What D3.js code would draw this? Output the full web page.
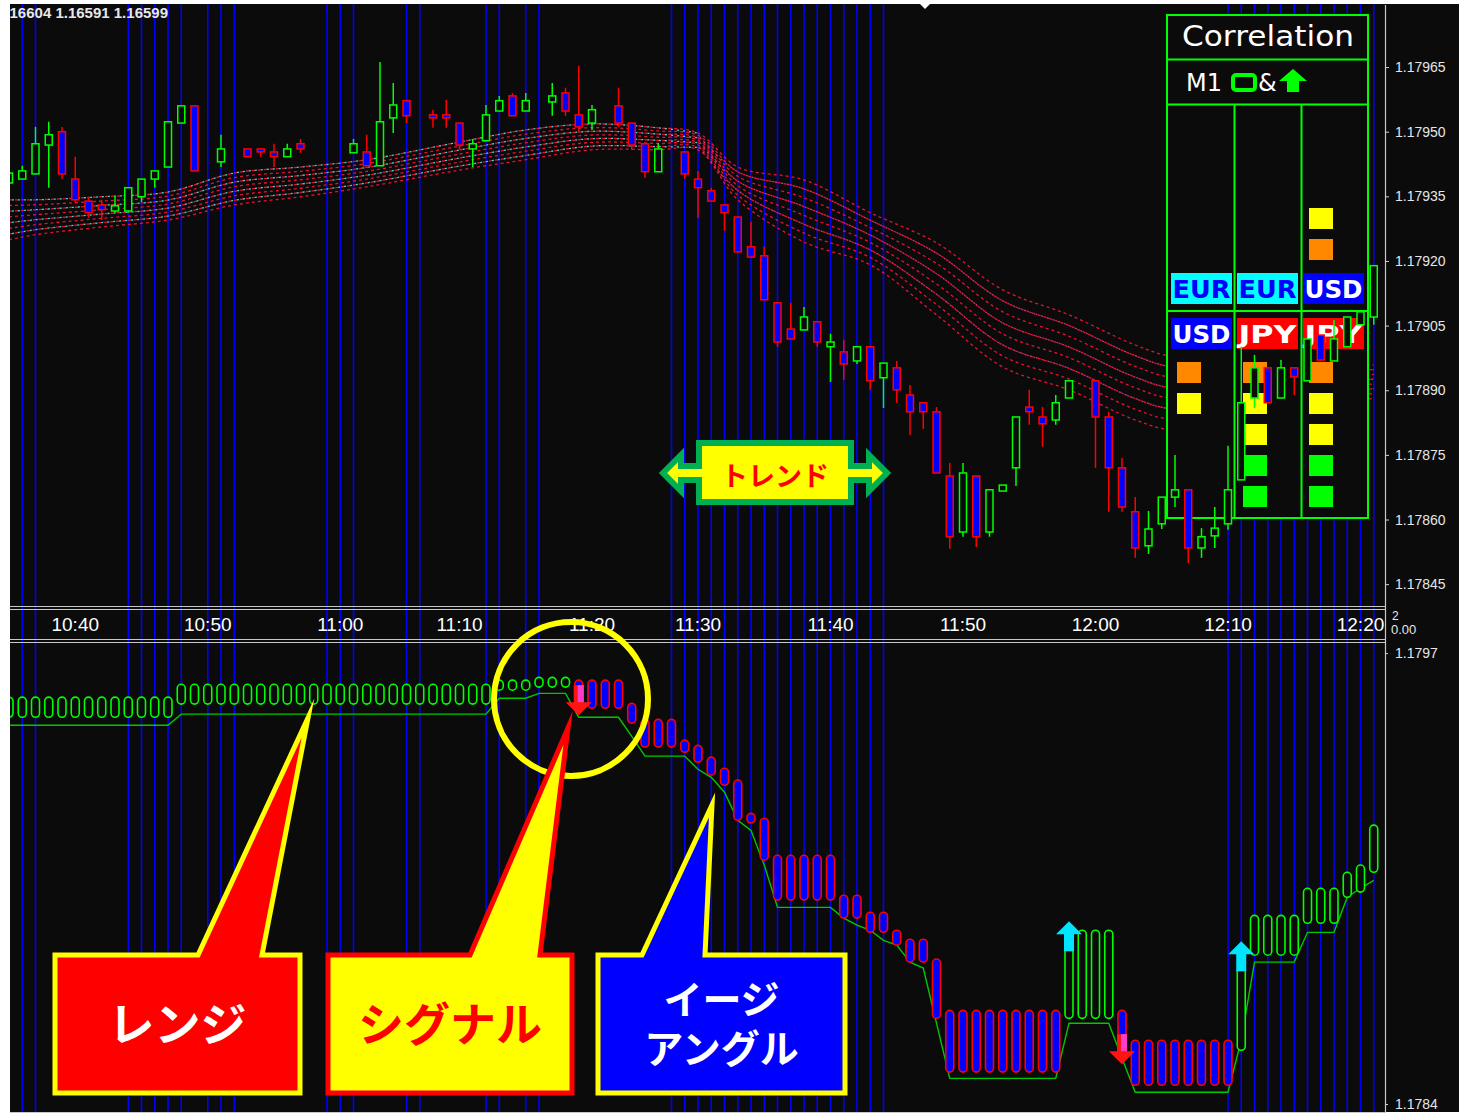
<!DOCTYPE html>
<html>
<head>
<meta charset="utf-8">
<script src="https://cdn.jsdelivr.net/npm/d3@7"></script>
<style>
  body { margin: 0; background: #fff; }
  svg { display: block; }
</style>
</head>
<body>
<div id="chart"></div>
<script>
// ---- data ----
// M1 candles, [open, high, low, close]; null = no visible candle
const candles = [
  [1.179381,1.179407,1.179379,1.179404],[1.179390,1.179421,1.179390,1.179409],[1.179402,1.179511,1.179402,1.179472],
  [1.179469,1.179523,1.179370,1.179493],[1.179500,1.179511,1.179390,1.179402],[1.179390,1.179442,1.179335,1.179342],
  [1.179339,1.179349,1.179300,1.179312],[1.179330,1.179342,1.179295,1.179319],[1.179316,1.179351,1.179312,1.179328],
  [1.179316,1.179370,1.179312,1.179370],[1.179349,1.179390,1.179337,1.179390],[1.179390,1.179409,1.179370,1.179409],
  [1.179418,1.179523,1.179418,1.179523],[1.179520,1.179560,1.179520,1.179560],[1.179560,1.179560,1.179409,1.179409],
  null,[1.179430,1.179493,1.179418,1.179460],null,
  [1.179460,1.179460,1.179442,1.179442],[1.179460,1.179460,1.179442,1.179453],[1.179453,1.179472,1.179418,1.179442],
  [1.179442,1.179472,1.179442,1.179460],[1.179472,1.179483,1.179451,1.179460],null,null,null,
  [1.179451,1.179483,1.179451,1.179472],[1.179453,1.179493,1.179421,1.179421],[1.179421,1.179662,1.179421,1.179523],
  [1.179532,1.179613,1.179497,1.179562],[1.179572,1.179572,1.179520,1.179537],null,
  [1.179539,1.179551,1.179509,1.179532],[1.179539,1.179574,1.179509,1.179532],[1.179520,1.179520,1.179458,1.179469],
  [1.179460,1.179483,1.179418,1.179472],[1.179479,1.179562,1.179479,1.179539],[1.179548,1.179583,1.179548,1.179572],
  [1.179583,1.179590,1.179537,1.179537],[1.179548,1.179590,1.179548,1.179572],null,
  [1.179569,1.179613,1.179537,1.179583],[1.179590,1.179602,1.179537,1.179548],[1.179539,1.179653,1.179500,1.179511],
  [1.179520,1.179562,1.179504,1.179551],null,[1.179560,1.179602,1.179511,1.179520],
  [1.179520,1.179520,1.179458,1.179469],[1.179472,1.179472,1.179393,1.179407],[1.179407,1.179474,1.179407,1.179460],
  null,[1.179453,1.179453,1.179390,1.179402],[1.179390,1.179409,1.179300,1.179370],
  [1.179363,1.179370,1.179339,1.179339],[1.179330,1.179330,1.179270,1.179312],[1.179302,1.179302,1.179221,1.179221],
  [1.179233,1.179291,1.179209,1.179209],[1.179212,1.179233,1.179110,1.179110],[1.179103,1.179103,1.179001,1.179012],
  [1.179042,1.179103,1.179019,1.179019],[1.179040,1.179093,1.179040,1.179070],[1.179059,1.179059,1.179001,1.179012],
  [1.179001,1.179031,1.178919,1.179012],[1.178989,1.179017,1.178924,1.178961],[1.178968,1.179001,1.178961,1.179001],
  [1.179001,1.179001,1.178901,1.178922],[1.178929,1.178963,1.178859,1.178963],[1.178952,1.178968,1.178871,1.178901],
  [1.178889,1.178912,1.178796,1.178850],[1.178871,1.178871,1.178810,1.178850],[1.178850,1.178861,1.178708,1.178708],
  [1.178701,1.178731,1.178532,1.178560],[1.178571,1.178731,1.178560,1.178708],[1.178701,1.178701,1.178536,1.178560],
  [1.178571,1.178669,1.178560,1.178669],[1.178666,1.178680,1.178666,1.178680],[1.178720,1.178838,1.178678,1.178838],
  [1.178861,1.178901,1.178820,1.178850],[1.178838,1.178861,1.178769,1.178822],[1.178831,1.178889,1.178820,1.178871],
  [1.178882,1.178922,1.178882,1.178922],null,[1.178922,1.178922,1.178720,1.178838],
  [1.178838,1.178850,1.178618,1.178720],[1.178720,1.178743,1.178618,1.178629],[1.178618,1.178652,1.178511,1.178534],
  [1.178539,1.178620,1.178520,1.178578],[1.178590,1.178652,1.178578,1.178652],[1.178652,1.178750,1.178629,1.178669],
  [1.178669,1.178669,1.178499,1.178534],[1.178534,1.178580,1.178511,1.178560],[1.178562,1.178629,1.178534,1.178580],
  [1.178590,1.178771,1.178576,1.178669],[1.178692,1.179001,1.178692,1.178871],[1.178882,1.178982,1.178859,1.178952],
  [1.178952,1.178952,1.178871,1.178871],[1.178882,1.178970,1.178882,1.178952],[1.178952,1.178952,1.178889,1.178931],
  [1.178922,1.179019,1.178922,1.179019],[1.179028,1.179028,1.178970,1.178970],[1.178968,1.179063,1.178968,1.179019],
  [1.179001,1.179070,1.179001,1.179070],[1.179052,1.179082,1.179052,1.179082],[1.179070,1.179189,1.179052,1.179189]
];

// moving-average ribbon envelope (bar index, upper, lower)
const ribbonIdx = [0, 2, 7, 12, 17, 22, 27, 34, 39, 44, 49, 52, 55, 60, 65, 70, 75, 80, 85, 88, 103];
const ribbonHi = [1.179342,1.179342,1.179349,1.179360,1.179404,1.179418,1.179435,1.179476,1.179504,1.179518,1.179509,
  1.179497,1.179418,1.179388,1.179312,1.179242,1.179133,1.179075,1.179005,1.178977,1.178959];
const ribbonLo = [1.179249,1.179261,1.179279,1.179295,1.179330,1.179349,1.179372,1.179411,1.179435,1.179458,1.179458,
  1.179458,1.179342,1.179244,1.179191,1.179075,1.178954,1.178901,1.178831,1.178808,1.178882];

// bars with blue vertical marker lines
const markerIdx = [1,2,9,10,11,12,13,15,16,17,24,25,26,30,31,36,37,39,40,
  50,51,52,53,54,55,56,57,58,59,60,61,62,63,64,65,66,
  92,93,94,95,96,97,98,99,100,101,102,103];

// lower window: smoothed bars (open/close) and the trailing step line
const haOpen = [
  1.179515,1.179515,1.179515,1.179515,1.179515,1.179515,1.179515,1.179515,1.179515,1.179515,1.179515,1.179515,1.179515,
  1.179553,1.179553,1.179553,1.179553,1.179553,1.179553,1.179553,1.179553,1.179553,1.179553,1.179553,1.179553,
  1.179553,1.179553,1.179553,1.179553,1.179553,1.179553,1.179553,1.179553,1.179553,1.179553,1.179553,1.179553,
  1.179593,1.179593,1.179593,1.179602,1.179602,1.179602,
  1.179622,1.179622,1.179622,1.179622,1.179555,1.179509,1.179509,1.179509,1.179449,1.179434,1.179400,1.179368,
  1.179334,1.179238,1.179224,1.179117,1.179117,1.179117,1.179117,1.179117,1.179002,1.179002,1.178953,1.178953,
  1.178901,1.178875,1.178875,1.178818,
  1.178670,1.178670,1.178670,1.178670,1.178670,1.178670,1.178670,1.178670,1.178670,
  1.178647,1.178647,1.178647,1.178647,1.178670,
  1.178584,1.178584,1.178584,1.178584,1.178584,1.178584,1.178584,1.178584,
  1.178555,1.178829,1.178829,1.178829,1.178829,1.178921,1.178921,1.178921,1.178996,1.179011,1.179068
];
const haClose = [
  1.179573,1.179573,1.179573,1.179573,1.179573,1.179573,1.179573,1.179573,1.179573,1.179573,1.179573,1.179573,1.179573,
  1.179610,1.179610,1.179610,1.179610,1.179610,1.179610,1.179610,1.179610,1.179610,1.179610,1.179610,1.179610,
  1.179610,1.179610,1.179610,1.179610,1.179610,1.179610,1.179610,1.179610,1.179610,1.179610,1.179610,1.179610,
  1.179622,1.179622,1.179622,1.179630,1.179630,1.179630,
  1.179541,1.179541,1.179541,1.179541,1.179498,1.179429,1.179429,1.179429,1.179414,1.179385,1.179348,1.179319,
  1.179218,1.179210,1.179103,1.178988,1.178988,1.178988,1.178988,1.178988,1.178936,1.178936,1.178895,1.178895,
  1.178858,1.178809,1.178809,1.178647,
  1.178492,1.178492,1.178492,1.178492,1.178492,1.178492,1.178492,1.178492,1.178492,
  1.178901,1.178901,1.178901,1.178901,1.178541,
  1.178454,1.178454,1.178454,1.178454,1.178454,1.178454,1.178454,1.178454,
  1.178794,1.178944,1.178944,1.178944,1.178944,1.179022,1.179022,1.179022,1.179068,1.179089,1.179204
];
const stepLine = [
  1.179492,1.179492,1.179492,1.179492,1.179492,1.179492,1.179492,1.179492,1.179492,1.179492,1.179492,1.179492,1.179492,
  1.179524,1.179524,1.179524,1.179524,1.179524,1.179524,1.179524,1.179524,1.179524,1.179524,1.179524,1.179524,
  1.179524,1.179524,1.179524,1.179524,1.179524,1.179524,1.179524,1.179524,1.179524,1.179524,1.179524,1.179524,
  1.179570,1.179570,1.179570,1.179584,1.179584,1.179584,
  1.179515,1.179515,1.179515,1.179515,1.179460,1.179403,1.179403,1.179403,1.179403,1.179365,1.179342,1.179299,
  1.179218,1.179189,1.179089,1.178967,1.178967,1.178967,1.178967,1.178967,1.178936,1.178916,1.178901,1.178872,
  1.178858,1.178809,1.178792,1.178633,
  1.178474,1.178474,1.178474,1.178474,1.178474,1.178474,1.178474,1.178474,1.178474,
  1.178633,1.178633,1.178633,1.178633,1.178532,
  1.178434,1.178434,1.178434,1.178434,1.178434,1.178434,1.178434,1.178434,
  1.178584,1.178809,1.178809,1.178809,1.178809,1.178895,1.178895,1.178895,1.178996,1.179022,1.179045
];

// signal arrows in the lower window (tip price)
const signalIdx = [43, 80, 84, 93];
const signalDir = ["down", "up", "down", "up"];
const signalTip = [1.179521, 1.178927, 1.178515, 1.178869];

// axes
const priceTicks = [1.17965, 1.17950, 1.17935, 1.17920, 1.17905, 1.17890, 1.17875, 1.17860, 1.17845];
const lowTicks = [1.1797, 1.1784];
const timeIdx = [5, 15, 25, 34, 44, 52, 62, 72, 82, 92, 102];
const timeLabels = ["10:40","10:50","11:00","11:10","11:20","11:30","11:40","11:50","12:00","12:10","12:20"];

// correlation panel
const corrRow1 = ["EUR", "EUR", "USD"];
const corrRow2 = ["USD", "JPY", "JPY"];
const corrUpper = [[], [], ["yellow", "orange"]];
const corrLower = [["orange", "yellow"],
                   ["orange", "yellow", "yellow", "green", "green"],
                   ["orange", "yellow", "yellow", "green", "green"]];

// ---- drawing ----
const W = 1459, H = 1117;
const N = candles.length;
const BG = "#0b0b0b";
const ccyColors = { EUR: ["#00ffff", "#0000ff"], USD: ["#0000ff", "#ffffff"], JPY: ["#ff0000", "#ffffff"] };
const boxColors = { yellow: "#ffff00", orange: "#ff8800", green: "#00ff00" };

const x = d3.scaleBand().domain(d3.range(N)).range([2.375, 2.375 + 13.25 * N]);
const cx = i => x(i) + x.bandwidth() / 2;
const yTop = d3.scaleLinear().domain([1.178397, 1.179794]).range([607, 5]);
const yLow = d3.scaleLinear().domain([1.178377, 1.179732]).range([1112, 642]);

const svg = d3.select("#chart").append("svg")
  .attr("width", W).attr("height", H)
  .style("font-family", "'Liberation Sans', Arial, sans-serif");

svg.append("rect").attr("width", W).attr("height", H).attr("fill", "#fff");
svg.append("rect").attr("x", 10).attr("y", 4).attr("width", W - 10).attr("height", 1108).attr("fill", BG);

const defs = svg.append("defs");
defs.append("clipPath").attr("id", "clipTop").append("rect")
  .attr("x", 10).attr("y", 5).attr("width", 1375).attr("height", 601);
defs.append("clipPath").attr("id", "clipLow").append("rect")
  .attr("x", 10).attr("y", 643).attr("width", 1375).attr("height", 469);
defs.append("clipPath").attr("id", "clipAll").append("rect")
  .attr("x", 10).attr("y", 4).attr("width", 1375).attr("height", 1108);
defs.append("clipPath").attr("id", "clipText").append("rect")
  .attr("x", 10).attr("y", 4).attr("width", 400).attr("height", 20);

/**
 * Blue vertical markers
 */
svg.append("g").attr("clip-path", "url(#clipAll)")
  .selectAll("line").data(markerIdx).enter().append("line")
  .attr("x1", d => cx(d)).attr("x2", d => cx(d))
  .attr("y1", 4).attr("y2", 1112)
  .attr("stroke", "#0000ff").attr("stroke-width", 1.6);

/**
 * Window separators and right border
 */
const sep = svg.append("g").attr("stroke", "#c8c8c8").attr("stroke-width", 1.2);
[606.5, 609.5, 639.5, 642.5].forEach(yy => {
  sep.append("line").attr("x1", 10).attr("x2", 1386).attr("y1", yy).attr("y2", yy);
});
sep.append("line").attr("x1", 1385.5).attr("x2", 1385.5).attr("y1", 5).attr("y2", 1112);
sep.append("line").attr("x1", 10).attr("x2", 1386).attr("y1", 1112.5).attr("y2", 1112.5);

/**
 * MA ribbon
 */
const gTop = svg.append("g").attr("clip-path", "url(#clipTop)");
const ribbonPts = ribbonIdx.map((d, j) => ({ i: d, hi: ribbonHi[j], lo: ribbonLo[j] }));
const nLines = 8;
d3.range(nLines).forEach(k => {
  const f = k / (nLines - 1);
  const line = d3.line()
    .x(d => cx(d.i))
    .y(d => yTop(d.lo + (d.hi - d.lo) * f))
    .curve(d3.curveCatmullRom);
  gTop.append("path").attr("d", line(ribbonPts))
    .attr("fill", "none").attr("stroke", "#e8122e").attr("stroke-width", 1.3)
    .attr("stroke-dasharray", "3,3");
  if (k % 2 === 1) {
    gTop.append("path").attr("d", line(ribbonPts.filter(d => d.i <= 52)))
      .attr("fill", "none").attr("stroke", "#48d0d0").attr("stroke-width", 1.3)
      .attr("stroke-dasharray", "2,4").attr("stroke-dashoffset", 3);
  } else if (k > 0) {
    gTop.append("path").attr("d", line(ribbonPts.filter(d => d.i >= 52)))
      .attr("fill", "none").attr("stroke", "#d83075").attr("stroke-width", 1.3)
      .attr("stroke-dasharray", "2,4").attr("stroke-dashoffset", 3);
  }
});

/**
 * Correlation panel
 */
const panel = svg.append("g");
panel.append("rect").attr("x", 1167).attr("y", 15).attr("width", 201).attr("height", 503)
  .attr("fill", BG).attr("stroke", "#00ff00").attr("stroke-width", 2);
[59.5, 104.5, 311].forEach(yy => panel.append("line")
  .attr("x1", 1167).attr("x2", 1368).attr("y1", yy).attr("y2", yy)
  .attr("stroke", "#00ff00").attr("stroke-width", 2));
[1234.5, 1301.5].forEach(xx => panel.append("line")
  .attr("x1", xx).attr("x2", xx).attr("y1", 104).attr("y2", 518)
  .attr("stroke", "#00ff00").attr("stroke-width", 2));
panel.append("text").attr("x", 1268).attr("y", 46).attr("text-anchor", "middle")
  .attr("font-family", "'DejaVu Sans', Verdana, sans-serif").attr("font-size", 29)
  .attr("font-weight", 500).attr("textLength", 172).attr("lengthAdjust", "spacingAndGlyphs")
  .attr("fill", "#ffffff").text("Correlation");
panel.append("text").attr("x", 1186).attr("y", 91)
  .attr("font-family", "'DejaVu Sans', Verdana, sans-serif").attr("font-size", 24)
  .attr("fill", "#ffffff").text("M1");
panel.append("rect").attr("x", 1233).attr("y", 75).attr("width", 22).attr("height", 15).attr("rx", 3)
  .attr("fill", "none").attr("stroke", "#00ff00").attr("stroke-width", 4);
panel.append("text").attr("x", 1258).attr("y", 91)
  .attr("font-family", "'DejaVu Sans', Verdana, sans-serif").attr("font-size", 24)
  .attr("fill", "#ffffff").text("&");
panel.append("polygon")
  .attr("points", "1293,69 1307,81 1299,81 1299,92 1287,92 1287,81 1279,81")
  .attr("fill", "#00ff00");

const colX = [1171, 1237, 1303];
[[corrRow1, 273], [corrRow2, 318]].forEach(([row, top]) => {
  row.forEach((ccy, c) => {
    panel.append("rect").attr("x", colX[c]).attr("y", top).attr("width", 61).attr("height", 31)
      .attr("fill", ccyColors[ccy][0]);
    panel.append("text").attr("x", colX[c] + 30.5).attr("y", top + 25).attr("text-anchor", "middle")
      .attr("font-family", "'DejaVu Sans', sans-serif").attr("font-weight", "bold").attr("font-size", 24)
      .attr("textLength", 58).attr("lengthAdjust", "spacingAndGlyphs")
      .attr("fill", ccyColors[ccy][1]).text(ccy);
  });
});
corrUpper.forEach((list, c) => list.forEach((col, s) => {
  panel.append("rect").attr("x", colX[c] + 6).attr("y", 208 + s * 31).attr("width", 24).attr("height", 21)
    .attr("fill", boxColors[col]);
}));
corrLower.forEach((list, c) => list.forEach((col, s) => {
  panel.append("rect").attr("x", colX[c] + 6).attr("y", 362 + s * 31).attr("width", 24).attr("height", 21)
    .attr("fill", boxColors[col]);
}));

/**
 * Candles
 */
const gCandles = svg.append("g").attr("clip-path", "url(#clipTop)");
const bars = candles.map((d, i) => d ? { i, o: d[0], h: d[1], l: d[2], c: d[3] } : null).filter(d => d);
const candle = gCandles.selectAll("g").data(bars).enter().append("g");
candle.append("line")
  .attr("x1", d => cx(d.i)).attr("x2", d => cx(d.i))
  .attr("y1", d => yTop(d.h)).attr("y2", d => yTop(d.l))
  .attr("stroke", d => d.c >= d.o ? "#00ff00" : "#ff0000").attr("stroke-width", 1.5);
candle.append("rect")
  .attr("x", d => cx(d.i) - 3.5).attr("width", 7)
  .attr("y", d => yTop(Math.max(d.o, d.c)))
  .attr("height", d => Math.max(1, yTop(Math.min(d.o, d.c)) - yTop(Math.max(d.o, d.c))))
  .attr("fill", d => d.c >= d.o ? BG : "#0000ff")
  .attr("stroke", d => d.c >= d.o ? "#00ff00" : "#ff0000").attr("stroke-width", 1.5);

/**
 * Lower window
 */
const gLow = svg.append("g").attr("clip-path", "url(#clipLow)");
gLow.append("path")
  .attr("d", d3.line().x((d, i) => cx(i)).y(d => yLow(d))(stepLine))
  .attr("fill", "none").attr("stroke", "#00c800").attr("stroke-width", 1.4);
const ha = haOpen.map((o, i) => ({ i, o, c: haClose[i] }));
gLow.selectAll("rect.ha").data(ha).enter().append("rect").attr("class", "ha")
  .attr("x", d => cx(d.i) - 4).attr("width", 8)
  .attr("y", d => yLow(Math.max(d.o, d.c)))
  .attr("height", d => yLow(Math.min(d.o, d.c)) - yLow(Math.max(d.o, d.c)))
  .attr("rx", 4)
  .attr("fill", d => d.c >= d.o ? BG : "#0000ff")
  .attr("stroke", d => d.c >= d.o ? "#00ff00" : "#ff0000").attr("stroke-width", 1.6);

signalIdx.forEach((bi, k) => {
  const px = cx(bi), tip = yLow(signalTip[k]);
  const s = signalDir[k] === "up" ? 1 : -1;
  const pts = [[0, 0], [13, 13], [5, 13], [5, 30], [-5, 30], [-5, 13], [-13, 13]]
    .map(p => [px + p[0], tip + s * p[1]]);
  gLow.append("polygon").attr("points", pts.map(p => p.join(",")).join(" "))
    .attr("fill", s === 1 ? "#00e4ff" : "#ff1414");
  if (s === -1) {
    gLow.append("rect").attr("x", px - 1).attr("y", tip - 30).attr("width", 6).attr("height", 17)
      .attr("fill", "#ff3cc8");
  }
});

/**
 * Axes
 */
const axTop = svg.append("g").attr("transform", "translate(1385,0)")
  .call(d3.axisRight(yTop).tickValues(priceTicks).tickSize(4).tickPadding(6).tickFormat(d3.format(".5f")));
const axLow = svg.append("g").attr("transform", "translate(1385,0)")
  .call(d3.axisRight(yLow).tickValues(lowTicks).tickSize(3).tickPadding(7).tickFormat(d3.format(".4f")));
[axTop, axLow].forEach(a => {
  a.select(".domain").remove();
  a.selectAll("line").attr("stroke", "#d0d0d0");
  a.selectAll("text").attr("fill", "#e6e6e6").attr("font-size", 14)
    .attr("font-family", "'Liberation Sans', Arial, sans-serif");
});

const axTime = svg.append("g").attr("transform", "translate(0,612)")
  .call(d3.axisBottom(x).tickValues(timeIdx).tickSize(0).tickPadding(0)
    .tickFormat(i => timeLabels[timeIdx.indexOf(i)]));
axTime.select(".domain").remove();
axTime.selectAll("text").attr("fill", "#ffffff").attr("font-size", 19).attr("dy", "1em")
  .attr("font-family", "'Liberation Sans', Arial, sans-serif");

svg.append("text").attr("x", 1392).attr("y", 620).attr("fill", "#e6e6e6").attr("font-size", 12).text("2");
svg.append("text").attr("x", 1391).attr("y", 634).attr("fill", "#e6e6e6").attr("font-size", 13).text("0.00");

// price readout top-left (its start is cut by the window edge) and chart-shift marker
svg.append("text").attr("clip-path", "url(#clipText)")
  .attr("x", -3).attr("y", 18).attr("fill", "#e8e8e8").attr("font-size", 15).attr("font-weight", "bold")
  .attr("textLength", 171).attr("lengthAdjust", "spacingAndGlyphs")
  .text("1.16604 1.16591 1.16599");
svg.append("polygon").attr("points", "920,4 930,4 925,9").attr("fill", "#ffffff");

/**
 * Annotations
 */
const jp = "'Noto Sans CJK JP', 'Noto Sans', sans-serif";

// trend banner
svg.append("path")
  .attr("d", "M663,473 L681,455 L681,466 L699,466 L699,443 L851,443 L851,466 L869,466 L869,455 L887,473 " +
             "L869,491 L869,480 L851,480 L851,502 L699,502 L699,480 L681,480 L681,491 Z")
  .attr("fill", "#ffff00").attr("stroke", "#00b050").attr("stroke-width", 6).attr("stroke-linejoin", "miter");
svg.append("text").attr("x", 775).attr("y", 474).attr("text-anchor", "middle").attr("dominant-baseline", "central")
  .attr("font-family", jp).attr("font-weight", "bold").attr("font-size", 27).attr("fill", "#ff0000")
  .text("トレンド");

// circle around the signal
svg.append("circle").attr("cx", 571).attr("cy", 699).attr("r", 77)
  .attr("fill", "none").attr("stroke", "#ffff00").attr("stroke-width", 6);

// callouts
const callouts = [
  { box: [55, 955, 300, 1093], base: [198, 262], tip: [308, 718], fill: "#ff0000", stroke: "#ffff00",
    lines: ["レンジ"], color: "#ffffff", size: 46 },
  { box: [328, 955, 572, 1093], base: [470, 540], tip: [568, 728], fill: "#ffff00", stroke: "#ff0000",
    lines: ["シグナル"], color: "#ff0000", size: 46 },
  { box: [598, 955, 845, 1093], base: [642, 705], tip: [712, 805], fill: "#0000ff", stroke: "#ffff00",
    lines: ["イージ", "アングル"], color: "#ffffff", size: 39 }
];
callouts.forEach(c => {
  const [x0, y0, x1, y1] = c.box;
  const p = d3.path();
  p.moveTo(x0, y0); p.lineTo(c.base[0], y0); p.lineTo(c.tip[0], c.tip[1]); p.lineTo(c.base[1], y0);
  p.lineTo(x1, y0); p.lineTo(x1, y1); p.lineTo(x0, y1); p.closePath();
  svg.append("path").attr("d", p.toString())
    .attr("fill", c.fill).attr("stroke", c.stroke).attr("stroke-width", 5)
    .attr("stroke-linejoin", "miter").attr("stroke-miterlimit", 20);
  const mid = (y0 + y1) / 2, gap = 49;
  const t = svg.append("text").attr("text-anchor", "middle")
    .attr("font-family", jp).attr("font-weight", "bold").attr("font-size", c.size)
    .attr("fill", c.color);
  c.lines.forEach((s, j) => {
    t.append("tspan").attr("x", (x0 + x1) / 2)
      .attr("y", mid + (j - (c.lines.length - 1) / 2) * gap + c.size * 0.36)
      .text(s);
  });
});
</script>
</body>
</html>
